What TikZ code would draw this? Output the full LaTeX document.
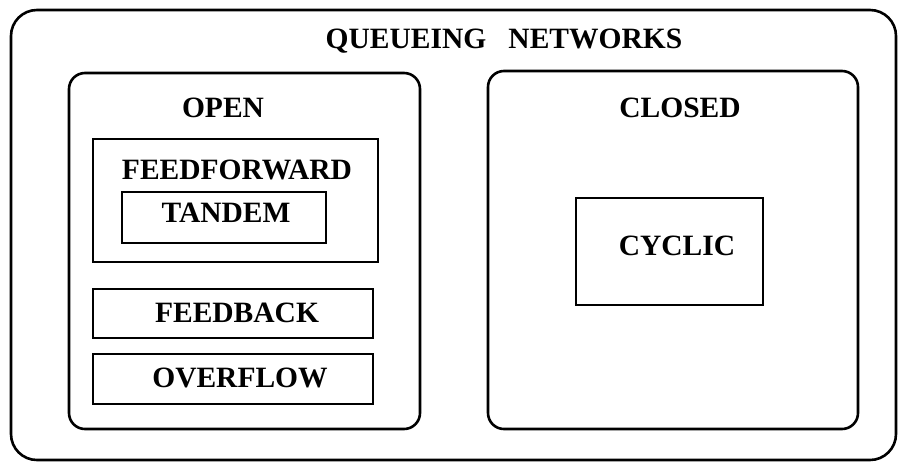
\documentclass[tikz,border=0pt]{standalone}
\usepackage{fontspec}
\setmainfont{Liberation Serif}
\begin{document}
\begin{tikzpicture}[x=1pt,y=-1pt,
  frame/.style={draw, line width=2.6pt, rounded corners=#1},
  frame/.default=15pt,
  box/.style={draw, line width=2.6pt, inner sep=0pt},
  lbl/.style={anchor=base, inner sep=0pt, font=\fontsize{29.5}{33}\selectfont\bfseries}
]
\useasboundingbox (0,0) rectangle (901,464);

% outer frame and the two families
\draw[frame=26pt] (11,10) rectangle (896,460);
\draw[frame=16pt] (69,73) rectangle (420,429);
\draw[frame=16pt] (488,71) rectangle (858,429);

% inner boxes
\node[box, minimum width=285pt, minimum height=123pt] (ff) at (235.5,200.5) {};
\node[box, minimum width=204pt, minimum height=51pt] (tandem) at (224,217.5) {};
\node[box, minimum width=280pt, minimum height=49pt] (fb) at (233,313.5) {};
\node[box, minimum width=280pt, minimum height=50pt] (of) at (233,379) {};
\node[box, minimum width=187pt, minimum height=107pt] (cyc) at (669.5,251.5) {};

% labels
\node[lbl] (title) at (504,48) {QUEUEING\hspace{0.75em}NETWORKS};
\node[lbl] (open) at (223,117) {OPEN};
\node[lbl] (closed) at (680,117) {CLOSED};
\node[lbl] (fflbl) at (237,179) {FEEDFORWARD};
\node[lbl] (tlbl) at (226,222) {TANDEM};
\node[lbl] (fblbl) at (237,322) {FEEDBACK};
\node[lbl] (oflbl) at (240,387) {OVERFLOW};
\node[lbl] (clbl) at (677,255) {CYCLIC};
\end{tikzpicture}
\end{document}
